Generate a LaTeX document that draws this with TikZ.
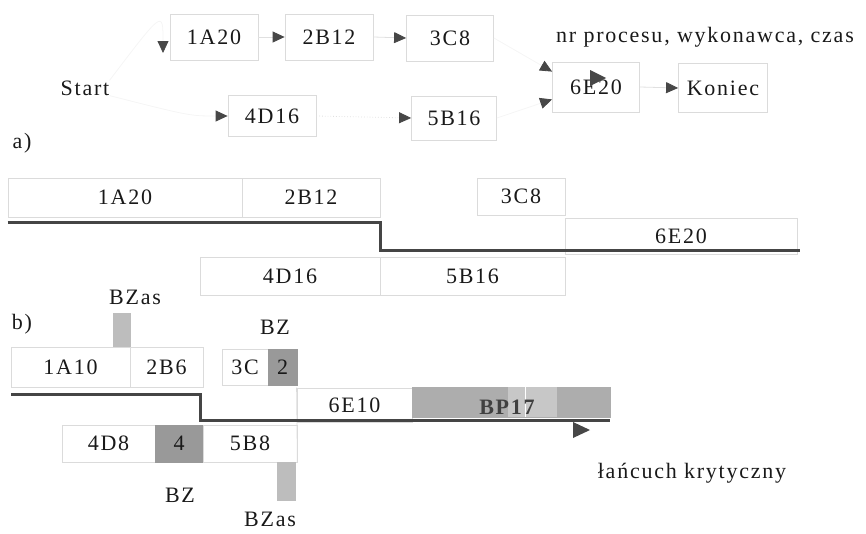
\documentclass[tikz,border=0pt]{standalone}
\usepackage{fontspec}
\setmainfont{Liberation Serif}[LetterSpace=8]
\usetikzlibrary{arrows.meta,calc}
\definecolor{tipc}{gray}{0.28}
\definecolor{boxc}{gray}{0.86}
\definecolor{linec}{gray}{0.88}
\definecolor{faintc}{gray}{0.96}
\definecolor{cpath}{gray}{0.27}
\definecolor{bzc}{gray}{0.60}
\definecolor{bpc}{gray}{0.68}
\definecolor{bpl}{gray}{0.78}
\definecolor{hzc}{gray}{0.74}
\tikzset{
  every node/.style={font=\fontsize{22}{24}\selectfont, text=black!90},
  box/.style={draw=boxc, line width=0.8pt, inner sep=0pt},
  conn/.style={draw=linec, line width=0.8pt, -{Triangle[length=12pt,width=11pt,color=tipc,fill=tipc]}},
  fconn/.style={conn, draw=faintc},
  crit/.style={draw=cpath, line width=3pt},
  lbl/.style={inner sep=0pt},
}
\begin{document}
\begin{tikzpicture}[x=1pt,y=-1pt]
\useasboundingbox (0,0) rectangle (866,533);
% ---------- network (a) ----------
\node[lbl] (start) at (85,88) {Start};
\node[box, minimum width=88, minimum height=46] (a1) at (214,37) {1A20};
\node[box, minimum width=88, minimum height=46] (a2) at (329,37) {2B12};
\node[box, minimum width=87, minimum height=46] (a3) at (450,38) {3C8};
\node[box, minimum width=88, minimum height=41] (a4) at (272,116) {4D16};
\node[box, minimum width=85, minimum height=44] (a5) at (454,118) {5B16};
\node[box, minimum width=87, minimum height=50] (a6) at (596,87) {6E20};
\node[box, minimum width=89, minimum height=49] (ko) at (723,88) {Koniec};
\node[lbl] (note) at (705,37) {nr procesu, wykonawca, czas};
\node[lbl] (la) at (22,143) {a)};
\coordinate (t0) at (163,53);
\draw[fconn] (start.north east) .. controls (163,10) .. (t0);
\draw[conn] (a1.east) -- (a2.west);
\draw[conn] (a2.east) -- (a3.west);
\draw[fconn] (start.south east) .. controls (190,116) .. (a4.west);
\draw[conn, dotted] (a4.east) -- (a5.west);
\draw[fconn] (a3.east) -- ($(a6.north west)+(0,10)$);
\draw[fconn] (a5.east) -- ($(a6.south west)+(0,-13)$);
\draw[conn] (a6.east) -- (ko.west);
\fill[tipc] (590,70) -- (606,78) -- (590,86) -- cycle;
% ---------- schedule (a) ----------
\node[box, minimum width=234, minimum height=39] (g1) at (125,197.5) {1A20};
\node[box, minimum width=138, minimum height=39] (g2) at (311,197.5) {2B12};
\node[box, minimum width=88, minimum height=37] (g3) at (521,196.5) {3C8};
\node[box, minimum width=232, minimum height=36] (g6) at (681,236) {6E20};
\node[box, minimum width=180, minimum height=38] (g4) at (290,276) {4D16};
\node[box, minimum width=185, minimum height=38] (g5) at (472.5,276) {5B16};
\draw[crit] (g1.south west) ++(0,5) coordinate (c0) -- (c0 -| g2.south east) coordinate (c1)
  -- (c1 |- 0,250) coordinate (c2) -- (800,250) coordinate (c3);
\node[lbl] (bzas1) at (135,297) {BZas};
\node[lbl] (lb) at (22,324) {b)};
% ---------- schedule (b) ----------
\node[box, fill=hzc, draw=hzc, minimum width=17, minimum height=34] (hz1) at (121.5,330) {};
\node[box, minimum width=119, minimum height=40] (b1) at (70.5,367) {1A10};
\node[box, minimum width=73, minimum height=40] (b2) at (166.5,367) {2B6};
\node[box, minimum width=46, minimum height=36] (b3) at (245,367) {3C};
\node[box, fill=bzc, draw=bzc, minimum width=29, minimum height=36] (bz2) at (282.5,367) {2};
\node[lbl] (bzl1) at (275,327) {BZ};
\node[box, minimum width=115, minimum height=34] (b6) at (354.5,405) {6E10};
\node[box, fill=bpc, draw=bpc, minimum width=198, minimum height=30] (bp) at (511,402) {};
\fill[bpl] (508,387) rectangle (557,417);
\draw[white, line width=1pt] (525,387) -- (525,417);
\node[lbl, font=\bfseries\fontsize{22}{24}\selectfont, text=black!75] (bpt) at (507,407) {BP17};
\node[box, minimum width=93, minimum height=37] (b4) at (108.5,443.5) {4D8};
\node[box, fill=bzc, draw=bzc, minimum width=48, minimum height=37] (bz4) at (179,443.5) {4};
\node[box, minimum width=94, minimum height=37] (b5) at (250,443.5) {5B8};
\node[box, fill=hzc, draw=hzc, minimum width=18, minimum height=38] (hz2) at (286,481) {};
\node[lbl] (bzl2) at (180,495) {BZ};
\node[lbl] (bzas2) at (270,519) {BZas};
\draw[boxc, line width=0.8pt] (b6.north west) -- (b5.south east);
\draw[crit] (11,394) coordinate (d0) -- (200,394) coordinate (d1) -- (200,420) coordinate (d2) -- (610,420) coordinate (d3);
\fill[tipc] (573,422) -- (590,430) -- (573,438) -- cycle;
\node[lbl] (lk) at (692,473) {łańcuch krytyczny};
\end{tikzpicture}
\end{document}
